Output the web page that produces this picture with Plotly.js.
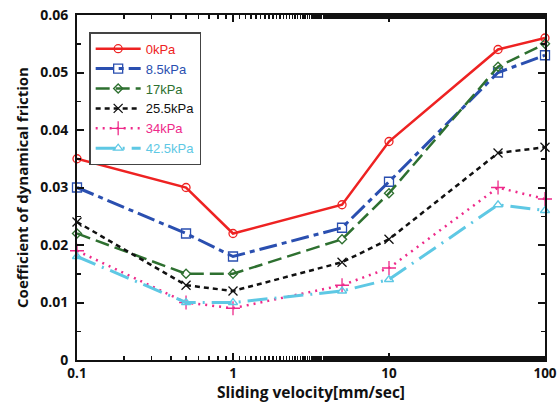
<!DOCTYPE html>
<html><head><meta charset="utf-8">
<script src="https://cdn.plot.ly/plotly-3.0.1.min.js"></script>
<style>html,body{margin:0;padding:0;background:#fff}#chart{width:559px;height:405px}</style>
</head><body><div id="chart"></div>
<script>
const velocity = [0.1, 0.5, 1, 5, 10, 50, 100];
const seriesNames = ["0kPa", "8.5kPa", "17kPa", "25.5kPa", "34kPa", "42.5kPa"];
const p0 = [0.035, 0.030, 0.022, 0.027, 0.038, 0.054, 0.056];
const p8_5 = [0.030, 0.022, 0.018, 0.023, 0.031, 0.050, 0.053];
const p17 = [0.022, 0.015, 0.015, 0.021, 0.029, 0.051, 0.055];
const p25_5 = [0.024, 0.013, 0.012, 0.017, 0.021, 0.036, 0.037];
const p34 = [0.019, 0.010, 0.009, 0.013, 0.016, 0.030, 0.028];
const p42_5 = [0.018, 0.010, 0.010, 0.012, 0.014, 0.027, 0.026];
const yTicks = [0, 0.01, 0.02, 0.03, 0.04, 0.05, 0.06];
const yTickText = ["0", "0.01", "0.02", "0.03", "0.04", "0.05", "0.06"];
const xTicks = [0.1, 1, 10, 100];
const xTickText = ["0.1", "1", "10", "100"];
const xTitle = "Sliding velocity[mm/sec]";
const yTitle = "Coefficient of dynamical friction";

const values = [p0, p8_5, p17, p25_5, p34, p42_5];
const colors = ["#ee2222", "#2a4fb0", "#2e7030", "#111111", "#ee2a8a", "#5ec8e4"];
const dashes = ["solid", "18px,5px,5px,5px", "14px,6px", "5px,4px", "2px,5px", "20px,7px,2px,7px"];
const widths = [2.5, 3, 2.5, 2.5, 2.5, 3];
const symbols = ["circle-open", "square-open", "diamond-open", "x-thin-open", "cross-thin-open", "triangle-up-open"];
const sizes = [8, 9, 7, 9, 10, 8];

const traces = values.map((v, i) => ({
  x: velocity, y: v, type: "scatter", mode: "lines+markers",
  name: '<span style="color:' + colors[i] + '">' + seriesNames[i] + '</span>',
  line: {color: colors[i], dash: dashes[i], width: widths[i]},
  marker: {symbol: symbols[i], size: sizes[i], color: colors[i], line: {color: colors[i], width: 1.3}},
  cliponaxis: false
}));

const tf = {family: "Open Sans, sans-serif", size: 14, color: "#111", weight: "bold"};
const layout = {
  width: 559, height: 405,
  margin: {l: 77, r: 14, t: 15, b: 45},
  paper_bgcolor: "#fff", plot_bgcolor: "#fff",
  font: {family: "Open Sans, sans-serif", size: 13, color: "#111"},
  showlegend: true,
  legend: {x: 0.026, y: 0.95, xanchor: "left", yanchor: "top",
    bordercolor: "#444", borderwidth: 1.5, bgcolor: "#fff",
    font: {family: "Arial, Liberation Sans, sans-serif", size: 13},
    tracegroupgap: 0, itemwidth: 45},
  xaxis: {type: "log", range: [-1, 2], tickvals: xTicks, ticktext: xTickText,
    ticks: "inside", ticklen: 7, tickwidth: 2, tickcolor: "#111",
    showline: true, linecolor: "#111", linewidth: 2, mirror: "ticks",
    showgrid: false, zeroline: false, ticklabelstandoff: 0,
    tickfont: {family: "Open Sans, sans-serif", size: 13.5, color: "#111", weight: "bold"}, automargin: false,
    minor: {ticks: "inside", ticklen: 4, tickwidth: 1.5, tickcolor: "#111", showgrid: false}},
  yaxis: {range: [0, 0.06], tickvals: yTicks, ticktext: yTickText,
    ticks: "inside", ticklen: 7, tickwidth: 2, tickcolor: "#111",
    showline: true, linecolor: "#111", linewidth: 2, mirror: "ticks",
    showgrid: false, zeroline: false, ticklabelstandoff: 4,
    tickfont: tf, automargin: false,
    minor: {ticks: "inside", ticklen: 4, tickwidth: 1.5, tickcolor: "#111", dtick: 0.005, showgrid: false},
    title: {text: "<b>" + yTitle + "</b>", standoff: 8, font: {family: "Open Sans, sans-serif", size: 15, color: "#111"}}},
  annotations: [{text: "<b>" + xTitle + "</b>", xref: "paper", yref: "paper", x: 0.5, y: 0,
    xanchor: "center", yanchor: "middle", yshift: -32, showarrow: false,
    font: {family: "Open Sans, sans-serif", size: 15.5, color: "#111"}}]
};
Plotly.newPlot("chart", traces, layout, {staticPlot: true});
</script></body></html>
